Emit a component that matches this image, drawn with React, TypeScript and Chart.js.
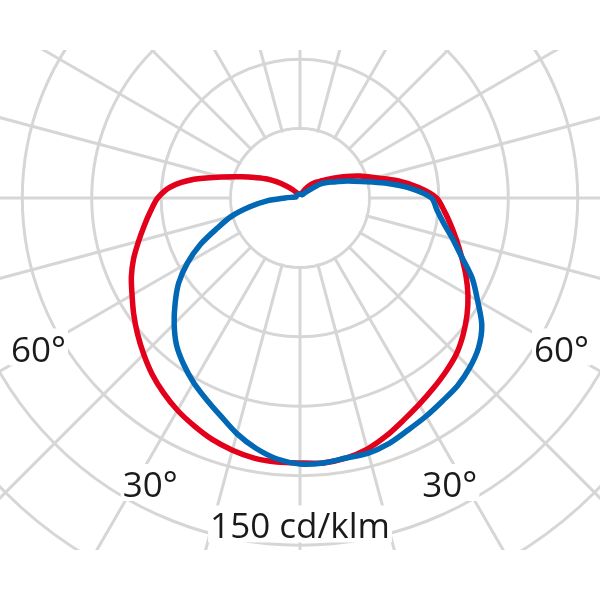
import React, { useEffect, useRef } from 'react';
import { Chart, registerables } from 'chart.js';

Chart.register(...registerables);

// Photometric angle gamma (deg), 0 = straight down, 180 = straight up
const GAMMA = [0, 5, 10, 15, 20, 25, 30, 35, 40, 45, 50, 55, 60, 65, 70, 75, 80, 85, 90,
  95, 100, 105, 110, 115, 120, 125, 130, 135, 140, 145, 150, 155, 160, 165, 170, 175, 180];

// Luminous intensity (cd/klm) — red curve (C0/C180 plane), left and right half
const RED_LEFT = [114.5, 114.5, 114.1, 112.8, 111.0, 108.5, 105.9, 102.8, 99.4, 95.5, 91.6, 87.7, 83.8, 80.4, 76.5, 72.2, 68.3, 64.8, 61.5,
  56.0, 46.5, 35.0, 26.8, 20.7, 16.4, 12.1, 8.6, 6.0, 4.3, 3.0, 2.2, 2.2, 1.7, 1.7, 1.7, 1.7, 1.7];
const RED_RIGHT = [114.5, 114.9, 114.1, 112.3, 109.3, 105.9, 103.0, 100.4, 98.0, 95.5, 92.0, 88.1, 83.8, 79.1, 74.3, 70.0, 66.1, 62.5, 59.0,
  51.5, 42.8, 33.7, 27.7, 22.0, 17.3, 13.8, 11.2, 9.5, 7.8, 6.0, 4.3, 3.0, 2.2, 1.7, 1.7, 1.7, 1.7];

// Blue curve (C90/C270 plane), left and right half
const BLUE_LEFT = [114.9, 113.2, 109.8, 105.4, 100.2, 95.9, 92.0, 87.7, 83.0, 76.9, 70.4, 64.0, 56.2, 47.5, 38.0, 30.7, 22.0, 14.3, 6.5,
  3.5, 2.2, 1.7, 1.7, 1.7, 1.7, 1.7, 1.7, 1.7, 1.7, 1.7, 1.7, 1.7, 1.7, 1.7, 1.7, 1.7, 1.7];
const BLUE_RIGHT = [114.9, 114.9, 114.1, 114.1, 112.8, 110.6, 108.9, 107.2, 105.9, 103.7, 100.7, 95.9, 88.6, 82.1, 74.3, 68.3, 63.1, 59.4, 56.8,
  48.0, 37.2, 27.7, 21.6, 16.4, 13.4, 10.4, 5.6, 3.5, 2.2, 1.7, 1.7, 1.7, 1.7, 1.7, 1.7, 1.7, 1.7];

const RING_STEP = 30;
const RING_MAX = 210;
const ANGLE_LINE_STEP = 15;

const ANGLE_LABELS = ['60°', '30°', '30°', '60°'];
const UNIT_LABEL = '150 cd/klm';

// ---- layout / style ----
const LABEL_LAYOUT = [
  { gamma: -60, value: 130.5 },
  { gamma: -27.6, value: 139.7 },
  { gamma: 27.6, value: 139.7 },
  { gamma: 60, value: 130.5 },
];
const UNIT_LAYOUT = { gamma: 0, value: 141.7 };
const GRID_COLOR = '#d6d6d6';
const GRID_W = 3;
const RED = '#e2001a';
const BLUE = '#0068b4';
const FONT_PX = 35;
const CANVAS = 973;

const STEP = GAMMA[1] - GAMMA[0];
const N = (360 / STEP);

function fullCircle(left: number[], right: number[]) {
  // radar index 0 points down, indices increase clockwise (towards the left side)
  const out: number[] = [];
  for (let i = 0; i < N; i++) {
    const g = i * STEP;
    if (g <= 180) out.push(left[GAMMA.indexOf(g)]);
    else out.push(right[GAMMA.indexOf(360 - g)]);
  }
  return out;
}

const labelsAll: string[] = [];
for (let i = 0; i < N; i++) labelsAll.push(String(i * STEP));

const overlayPlugin = {
  id: 'ldcOverlay',
  beforeDatasetsDraw(chart: any) {
    const s = chart.scales.r;
    const ctx = chart.ctx as CanvasRenderingContext2D;
    ctx.save();
    // keep radial lines out of the inner circle
    ctx.fillStyle = '#ffffff';
    ctx.beginPath();
    ctx.arc(s.xCenter, s.yCenter, s.getDistanceFromCenterForValue(RING_STEP) - GRID_W / 2, 0, Math.PI * 2);
    ctx.fill();

    ctx.font = `${FONT_PX}px 'Open Sans'`;
    ctx.textAlign = 'center';
    ctx.textBaseline = 'alphabetic';
    const cap = FONT_PX * 0.714;
    const draw = (text: string, gamma: number, value: number) => {
      const d = s.getDistanceFromCenterForValue(value);
      const a = (gamma * Math.PI) / 180;
      const x = s.xCenter + d * Math.sin(a);
      const y = s.yCenter + d * Math.cos(a);
      const w = ctx.measureText(text).width;
      ctx.fillStyle = '#ffffff';
      ctx.fillRect(x - w / 2 - 2, y - cap / 2 - 8, w + 4, cap + 12);
      ctx.fillStyle = '#1a1a1a';
      ctx.fillText(text, x, y + cap / 2);
    };
    ANGLE_LABELS.forEach((t, i) => draw(t, LABEL_LAYOUT[i].gamma, LABEL_LAYOUT[i].value));
    draw(UNIT_LABEL, UNIT_LAYOUT.gamma, UNIT_LAYOUT.value);
    ctx.restore();
  },
};

export default function App() {
  const ref = useRef<HTMLCanvasElement>(null);
  useEffect(() => {
    if (!ref.current) return;
    const chart = new Chart(ref.current, {
      type: 'radar',
      data: {
        labels: labelsAll,
        datasets: [
          {
            label: 'C0-C180',
            data: fullCircle(RED_LEFT, RED_RIGHT),
            borderColor: RED,
            backgroundColor: 'transparent',
            fill: false,
            order: 2,
          },
          {
            label: 'C90-C270',
            data: fullCircle(BLUE_LEFT, BLUE_RIGHT),
            borderColor: BLUE,
            backgroundColor: 'transparent',
            fill: false,
            order: 1,
          },
        ],
      },
      options: {
        responsive: false,
        animation: false,
        events: [],
        layout: { padding: 0 },
        plugins: {
          legend: { display: false },
          tooltip: { enabled: false },
          title: { display: false },
        },
        elements: {
          point: { radius: 0, hoverRadius: 0 },
          line: { borderWidth: 5.5, tension: 0.3, borderJoinStyle: 'round', borderCapStyle: 'round' },
        },
        scales: {
          r: {
            min: 0,
            max: RING_MAX,
            startAngle: 180,
            ticks: { display: false, stepSize: RING_STEP },
            pointLabels: { display: false },
            grid: { circular: true, color: GRID_COLOR, lineWidth: GRID_W },
            angleLines: {
              display: true,
              color: GRID_COLOR,
              lineWidth: (c: any) => ((c.index * STEP) % ANGLE_LINE_STEP === 0 ? GRID_W : 0),
            },
          },
        },
      } as any,
      plugins: [overlayPlugin],
    });
    return () => chart.destroy();
  }, []);

  return (
    <div style={{ position: 'fixed', left: 0, top: 0, width: 600, height: 600, background: '#fff', overflow: 'hidden' }}>
      <div style={{ position: 'absolute', left: 0, top: 50, width: 600, height: 500, overflow: 'hidden' }}>
        <canvas
          ref={ref}
          width={CANVAS}
          height={CANVAS}
          style={{ position: 'absolute', left: -186, top: -338, width: CANVAS, height: CANVAS }}
        />
      </div>
    </div>
  );
}
